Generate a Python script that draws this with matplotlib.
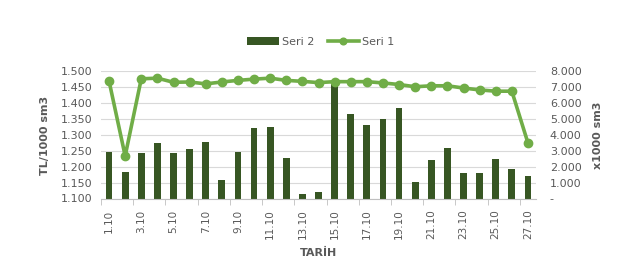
import matplotlib
matplotlib.use("Agg")
import matplotlib.pyplot as plt
from matplotlib.ticker import FuncFormatter, FixedLocator
import numpy as np

days = [f"{d}.10" for d in range(1, 28)]
seri1 = [1470, 1234, 1477, 1479, 1466, 1467, 1461, 1467, 1472, 1476, 1479, 1472, 1469,
         1465, 1468, 1468, 1468, 1464, 1459, 1452, 1455, 1455, 1448, 1442, 1438, 1438, 1275]
seri2 = [2930, 1660, 2860, 3490, 2860, 3120, 3560, 1160, 2930, 4440, 4510, 2550, 270,
         420, 7310, 5350, 4600, 4980, 5670, 1040, 2420, 3170, 1600, 1600, 2480, 1850, 1420]

gray = "#595959"
grid = "#d9d9d9"
bar_c = "#375623"
line_c = "#70AD47"

fig = plt.figure(figsize=(6.23, 2.64), dpi=100)
ax = fig.add_axes([101/623, 1-198.5/264, 435/623, 127/264])
ax2 = ax.twinx()

x = np.arange(len(days))
ax2.bar(x, seri2, width=0.42, color=bar_c, label="Seri 2", zorder=2)
ax.plot(x, seri1, color=line_c, lw=2.6, marker="o", markersize=6, label="Seri 1", zorder=3)

ax.set_zorder(ax2.get_zorder() + 1)
ax.patch.set_visible(False)

ax.set_xlim(-0.5, len(days) - 0.5)
ax.set_ylim(1100, 1500)
ax2.set_ylim(0, 8000)
ax.set_yticks(np.arange(1100, 1501, 50))
ax2.set_yticks(np.arange(0, 8001, 1000))

fmt = lambda v, p: "-" if v == 0 else f"{v:,.0f}".replace(",", ".")
ax.yaxis.set_major_formatter(FuncFormatter(fmt))
ax2.yaxis.set_major_formatter(FuncFormatter(fmt))

ax2.yaxis.grid(True, color=grid, lw=0.8, zorder=0)
ax2.set_axisbelow(True)

ax.set_xticks(x[::2])
ax.set_xticklabels(days[::2], rotation=90)
ax.xaxis.set_minor_locator(FixedLocator(np.arange(-0.5, len(days), 2)))
ax.tick_params(axis="x", which="major", length=0, pad=8, labelsize=7.5, labelcolor=gray)
ax.tick_params(axis="x", which="minor", length=4, color="#bfbfbf")
ax.tick_params(axis="y", length=0, labelsize=8, labelcolor=gray, pad=6)
ax2.tick_params(axis="y", length=0, labelsize=8, labelcolor=gray, pad=10)

for a in (ax, ax2):
    for s in ("top", "left", "right"):
        a.spines[s].set_visible(False)
ax2.spines["bottom"].set_visible(False)
ax.spines["bottom"].set_color("#bfbfbf")

ax.set_ylabel("TL/1000 sm3", fontsize=8, fontweight="bold", color=gray, labelpad=8)
ax2.set_ylabel("x1000 sm3", fontsize=8, fontweight="bold", color=gray, labelpad=8)
ax.set_xlabel("TARİH", fontsize=8, fontweight="bold", color=gray, labelpad=6)

h2, l2 = ax2.get_legend_handles_labels()
h1, l1 = ax.get_legend_handles_labels()
fig.legend(h2 + h1, l2 + l1, loc="center", bbox_to_anchor=(0.515, 1 - 42/264), ncol=2,
           frameon=False, fontsize=8, labelcolor=gray, handlelength=2.8, columnspacing=1.2,
           handletextpad=0.3, markerscale=0.8)

fig.savefig("out.png", dpi=100)
